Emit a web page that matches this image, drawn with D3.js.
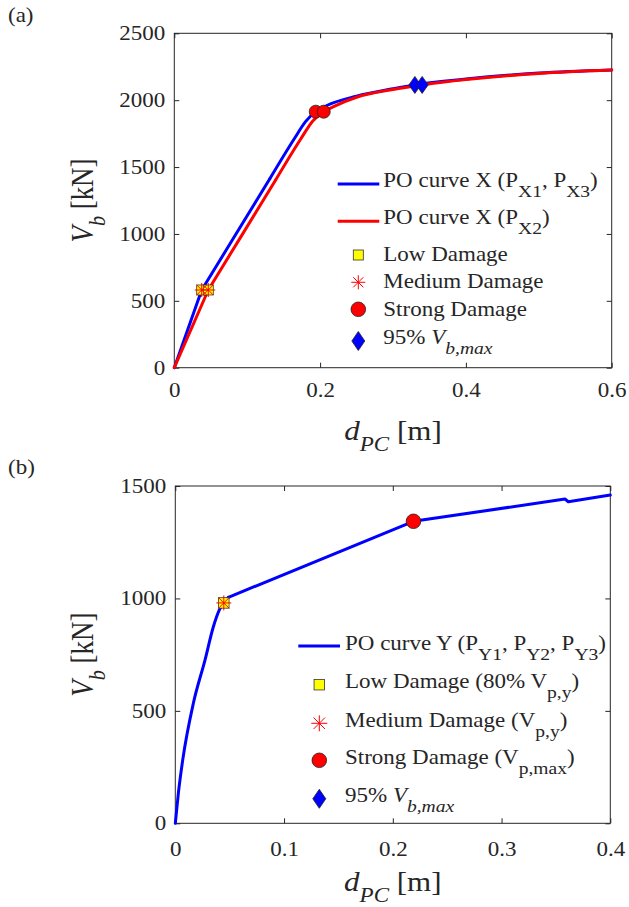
<!DOCTYPE html>
<html>
<head>
<meta charset="utf-8">
<script src="https://cdn.jsdelivr.net/npm/d3@7"></script>
<style>
  body { margin: 0; background: #fff; }
  svg text { font-family: "Liberation Serif", "Times New Roman", Times, serif; }
  .tick line { stroke: #262626; }
</style>
</head>
<body>
<div class="stage"></div>
<script>
// ---- panel (a): pushover curves X ----
var poX13D = [0, 0.0376, 0.08, 0.131, 0.165, 0.18, 0.194, 0.21, 0.25, 0.3, 0.33, 0.4, 0.5, 0.6]
var poX13V = [0, 581, 958, 1412, 1715, 1840, 1914, 1962, 2030, 2085, 2114, 2158, 2203, 2226]
var poX2D = [0, 0.0466, 0.09, 0.139, 0.173, 0.19, 0.205, 0.22, 0.25, 0.3, 0.34, 0.4, 0.5, 0.6]
var poX2V = [0, 581, 967, 1403, 1706, 1845, 1914, 1956, 2022, 2080, 2114, 2154, 2200, 2225]
var lowXD = [0.0376, 0.0466], lowXV = [581, 581]
var medXD = [0.0376, 0.0466], medXV = [581, 581]
var strongXD = [0.194, 0.205], strongXV = [1914, 1914]
var maxXD = [0.330, 0.340], maxXV = [2114, 2114]
var xTicksA = [0, 0.2, 0.4, 0.6]
var yTicksA = [0, 500, 1000, 1500, 2000, 2500]

// ---- panel (b): pushover curve Y ----
var poYD = [0, 0.0028, 0.0068, 0.0166, 0.0273, 0.035, 0.0405, 0.0442, 0.0488, 0.219, 0.3583, 0.3614, 0.4]
var poYV = [0, 133, 281, 534, 726, 874, 949, 978, 1005, 1343, 1442, 1430, 1460]
var lowYD = [0.0446], lowYV = [980]
var medYD = [0.0446], medYV = [980]
var strongYD = [0.219], strongYV = [1343]
var xTicksB = [0, 0.1, 0.2, 0.3, 0.4]
var yTicksB = [0, 500, 1000, 1500]

var ink = "#262626"
var serif = "'Liberation Serif', 'Times New Roman', Times, serif"
var sx = 1.15   // the source figure is stretched sideways a bit

var svg = d3.select(".stage").append("svg")
  .attr("width", 629)
  .attr("height", 907)
  .attr("font-family", serif)

function zip(a, b){ return a.map(function(v, i){ return [v, b[i]] }) }
function fmt(d){ return d === 0 ? "0" : (Number.isInteger(d) ? String(d) : d3.format(".1f")(d)) }

// text made of pieces, some italic, some subscripted
function rich(g, parts, sub){
  var t = g.append("text").attr("fill", ink)
  var low = false
  parts.forEach(function(p){
    var s = t.append("tspan").text(p.t)
    if (p.it) s.attr("font-style", "italic")
    if (p.sub && !low){ s.attr("dy", sub.dy); low = true }
    else if (!p.sub && low){ s.attr("dy", -sub.dy); low = false }
    s.attr("font-size", p.sub ? sub.size : null)
  })
  return t
}

function marker(g, kind, cx, cy, s){
  if (kind == "square"){
    g.append("rect").attr("x", cx - s.sq/2).attr("y", cy - s.sq/2)
      .attr("width", s.sq).attr("height", s.sq)
      .attr("fill", "#ffff00").attr("stroke", "#333").attr("stroke-width", 0.8)
  } else if (kind == "star"){
    var r = s.star, p = "", k = r*0.72
    p += "M" + (cx - r) + "," + cy + "h" + (2*r)
    p += "M" + cx + "," + (cy - r) + "v" + (2*r)
    p += "M" + (cx - k) + "," + (cy - k) + "l" + (2*k) + "," + (2*k)
    p += "M" + (cx - k) + "," + (cy + k) + "l" + (2*k) + "," + (-2*k)
    g.append("path").attr("d", p).attr("stroke", "#ff0000").attr("stroke-width", 1).attr("fill", "none")
  } else if (kind == "circle"){
    g.append("circle").attr("cx", cx).attr("cy", cy).attr("r", s.circ)
      .attr("fill", "#ff0000").attr("stroke", "#222").attr("stroke-width", 0.8)
  } else {
    var w = s.dw, h = s.dh
    g.append("path")
      .attr("d", "M" + cx + "," + (cy - h) + "L" + (cx + w) + "," + cy + "L" + cx + "," + (cy + h) + "L" + (cx - w) + "," + cy + "Z")
      .attr("fill", "#0000ff").attr("stroke", "#222").attr("stroke-width", 0.8)
  }
}

function panel(o){
  var x = d3.scaleLinear().domain(o.xDom).range([o.left, o.right])
  var y = d3.scaleLinear().domain(o.yDom).range([o.bottom, o.top])
  var g = svg.append("g")

  var ax = g.append("g").attr("transform", "translate(0," + o.bottom + ")")
    .call(d3.axisBottom(x).tickValues(o.xTicks).tickFormat(fmt).tickSize(-5).tickPadding(o.xPad))
  ax.selectAll(".tick text").attr("transform", "scale(" + sx + ",1)")
  g.append("g").attr("transform", "translate(0," + o.top + ")")
    .call(d3.axisTop(x).tickValues(o.xTicks).tickFormat("").tickSize(-5))
  var ay = g.append("g").attr("transform", "translate(" + o.left + ",0)")
    .call(d3.axisLeft(y).tickValues(o.yTicks).tickFormat(fmt).tickSize(-5).tickPadding(9))
  ay.selectAll(".tick text").attr("x", -9/sx).attr("transform", "scale(" + sx + ",1)")
  g.append("g").attr("transform", "translate(" + o.right + ",0)")
    .call(d3.axisRight(y).tickValues(o.yTicks).tickFormat("").tickSize(-5))
  g.selectAll(".domain").remove()
  g.selectAll("g").attr("font-family", serif).attr("font-size", 20)
  g.selectAll(".tick text").attr("fill", ink)

  g.append("rect")
    .attr("x", o.left).attr("y", o.top)
    .attr("width", o.right - o.left).attr("height", o.bottom - o.top)
    .attr("fill", "none").attr("stroke", ink).attr("stroke-width", 1)

  o.series.forEach(function(s){
    var pts = zip(s.d, s.v)
    s.parts.forEach(function(pt){
      var line = d3.line()
        .x(function(d){ return x(d[0]) })
        .y(function(d){ return y(d[1]) })
        .curve(pt[2])
      g.append("path").datum(pts.slice(pt[0], pt[1] + 1))
        .attr("d", line)
        .attr("fill", "none")
        .attr("stroke", s.color)
        .attr("stroke-width", 3)
        .attr("stroke-linejoin", "round")
        .attr("stroke-linecap", "round")
    })
  })

  o.marks.forEach(function(m){
    m.pts.forEach(function(p){ marker(g, m.kind, x(p[0]), y(p[1]), o.msize) })
  })

  // axis labels
  var xl = g.append("g")
    .attr("transform", "translate(" + ((o.left + o.right)/2) + "," + o.xLabelY + ") scale(" + sx + ",1)")
  rich(xl, [{t: "d", it: true}, {t: "PC", it: true, sub: true}, {t: " [m]"}], {dy: 11, size: "20px"})
    .attr("text-anchor", "middle").attr("font-size", "27px")
  var yl = g.append("g")
    .attr("transform", "translate(93," + ((o.top + o.bottom)/2) + ") scale(" + sx + ",1) rotate(-90)")
  rich(yl, [{t: "V", it: true}, {t: "b", it: true, sub: true}, {t: " [kN]"}], {dy: 10, size: "20px"})
    .attr("text-anchor", "middle").attr("font-size", "27px")

  g.append("text").attr("transform", "translate(8," + o.tagY + ") scale(" + sx + ",1)")
    .attr("font-size", "20px").attr("fill", ink).text(o.tag)

  // legend
  var lg = g.append("g").attr("font-size", "20px")
  o.legend.forEach(function(e){
    if (e.line){
      lg.append("line").attr("x1", o.lx0).attr("x2", o.lx1).attr("y1", e.my).attr("y2", e.my)
        .attr("stroke", e.line).attr("stroke-width", 3)
    } else {
      marker(lg, e.kind, o.mx, e.my, o.lsize)
    }
    var tg = lg.append("g").attr("transform", "translate(" + o.tx + "," + e.by + ") scale(" + sx + ",1)")
    rich(tg, e.parts, {dy: 10, size: "17px"})
  })
}

var legendTail = function(){ return [{t: "95% "}, {t: "V", it: true}, {t: "b,max", it: true, sub: true}] }

panel({
  left: 174.3, right: 611.7, top: 33.3, bottom: 367.7,
  xDom: [0, 0.6], yDom: [0, 2500], xTicks: xTicksA, yTicks: yTicksA, xPad: 15,
  series: [
    {d: poX13D, v: poX13V, color: "#0000ff", parts: [[0, 3, d3.curveLinear], [3, 13, d3.curveMonotoneX]]},
    {d: poX2D, v: poX2V, color: "#ff0000", parts: [[0, 3, d3.curveLinear], [3, 13, d3.curveMonotoneX]]}
  ],
  marks: [
    {kind: "square", pts: zip(lowXD, lowXV)},
    {kind: "star", pts: zip(medXD, medXV)},
    {kind: "circle", pts: zip(strongXD, strongXV)},
    {kind: "diamond", pts: zip(maxXD, maxXV)}
  ],
  msize: {sq: 10, star: 7, circ: 6.5, dw: 6, dh: 8.5},
  lsize: {sq: 10, star: 7, circ: 7.3, dw: 6.5, dh: 9.5},
  xLabelY: 440, tag: "(a)", tagY: 22,
  lx0: 337.7, lx1: 379.3, mx: 358.3, tx: 383.3,
  legend: [
    {line: "#0000ff", my: 184, by: 186.7,
      parts: [{t: "PO curve X (P"}, {t: "X1", sub: true}, {t: ", P"}, {t: "X3", sub: true}, {t: ")"}]},
    {line: "#ff0000", my: 221.3, by: 224.3,
      parts: [{t: "PO curve X (P"}, {t: "X2", sub: true}, {t: ")"}]},
    {kind: "square", my: 255, by: 260.7, parts: [{t: "Low Damage"}]},
    {kind: "star", my: 282.3, by: 288.3, parts: [{t: "Medium Damage"}]},
    {kind: "circle", my: 309.3, by: 315.7, parts: [{t: "Strong Damage"}]},
    {kind: "diamond", my: 341, by: 343.5, parts: legendTail()}
  ]
})

panel({
  left: 175.3, right: 610.3, top: 486, bottom: 823.3,
  xDom: [0, 0.4], yDom: [0, 1500], xTicks: xTicksB, yTicks: yTicksB, xPad: 19,
  series: [
    {d: poYD, v: poYV, color: "#0000ff", parts: [[0, 8, d3.curveMonotoneX], [8, 12, d3.curveLinear]]}
  ],
  marks: [
    {kind: "square", pts: zip(lowYD, lowYV)},
    {kind: "star", pts: zip(medYD, medYV)},
    {kind: "circle", pts: zip(strongYD, strongYV)}
  ],
  msize: {sq: 10.5, star: 7.5, circ: 7.3, dw: 6.5, dh: 9.5},
  lsize: {sq: 10.5, star: 8, circ: 7.3, dw: 6.5, dh: 9.5},
  xLabelY: 891, tag: "(b)", tagY: 474,
  lx0: 298.3, lx1: 340, mx: 319.3, tx: 345,
  legend: [
    {line: "#0000ff", my: 646, by: 650,
      parts: [{t: "PO curve Y (P"}, {t: "Y1", sub: true}, {t: ", P"}, {t: "Y2", sub: true}, {t: ", P"}, {t: "Y3", sub: true}, {t: ")"}]},
    {kind: "square", my: 684.7, by: 688.3,
      parts: [{t: "Low Damage (80% V"}, {t: "p,y", sub: true}, {t: ")"}]},
    {kind: "star", my: 723.3, by: 726.7,
      parts: [{t: "Medium Damage (V"}, {t: "p,y", sub: true}, {t: ")"}]},
    {kind: "circle", my: 760.3, by: 764,
      parts: [{t: "Strong Damage (V"}, {t: "p,max", sub: true}, {t: ")"}]},
    {kind: "diamond", my: 798.8, by: 801.7, parts: legendTail()}
  ]
})
</script>
</body>
</html>
